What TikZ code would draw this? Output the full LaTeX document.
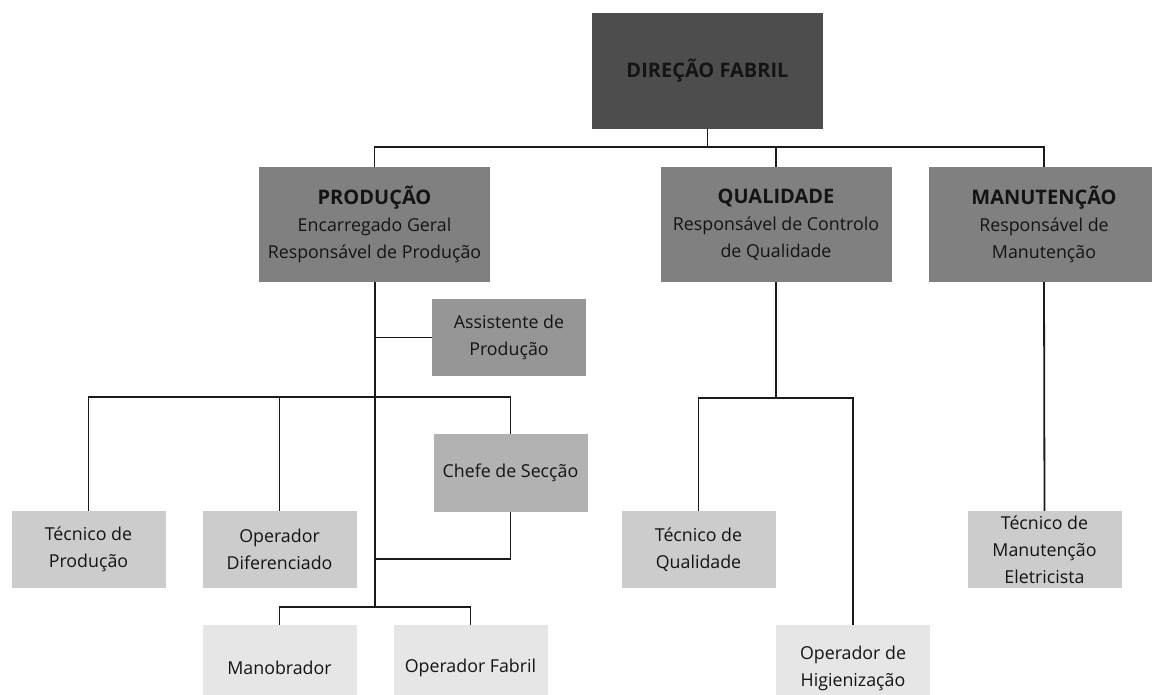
\documentclass[tikz,border=0pt]{standalone}
\usepackage{fontspec}
\setmainfont{Open Sans}
\definecolor{cdir}{HTML}{4D4D4D}
\definecolor{cdep}{HTML}{808080}
\definecolor{cass}{HTML}{969696}
\definecolor{cchefe}{HTML}{B2B2B2}
\definecolor{ctec}{HTML}{CCCCCC}
\definecolor{cop}{HTML}{E6E6E6}
\definecolor{cline}{HTML}{1A1A1A}
\definecolor{ctxt}{HTML}{141414}
\newcommand{\ttl}[1]{{\fontsize{20}{27}\selectfont\bfseries #1}}
\begin{document}
\begin{tikzpicture}[x=1pt,y=-1pt,
  box/.style={rectangle, inner sep=0pt, align=center, text=ctxt,
    font=\fontsize{17.8}{27}\selectfont},
  big/.style={box, minimum width=231pt, minimum height=115pt},
  small/.style={box, minimum width=154pt, minimum height=77pt},
  low/.style={box, minimum width=154pt, minimum height=86pt},
  conn/.style={draw=cline, line width=1.8pt},
  trunk/.style={draw=cline, line width=2.4pt}]
\useasboundingbox (0,0) rectangle (1152,695);
\clip (0,0) rectangle (1152,695);

\node[big, fill=cdir, minimum height=116pt] (dir) at (707.5,71) {\ttl{DIREÇÃO FABRIL}};
\node[big, fill=cdep] (prod) at (374.5,224.5) {\ttl{PRODUÇÃO}\\Encarregado Geral\\Responsável de Produção};
\node[big, fill=cdep] (qual) at (776,224.5) {\ttl{QUALIDADE}\\Responsável de Controlo\\de Qualidade};
\node[big, fill=cdep, minimum width=230pt] (man) at (1044,224.5) {\ttl{MANUTENÇÃO}\\Responsável de\\Manutenção};

\node[small, fill=cass] (assist) at (509,337.5) {Assistente de\\Produção};
\node[small, fill=cchefe, minimum height=78pt] (chefe) at (510.5,473) {Chefe de Secção};
\node[small, fill=ctec] (tecprod) at (88.5,549.5) {Técnico de\\Produção};
\node[small, fill=ctec] (opdif) at (279.5,549.5) {Operador\\Diferenciado};
\node[small, fill=ctec] (tecqual) at (698.5,549.5) {Técnico de\\Qualidade};
\node[small, fill=ctec] (tecman) at (1044.5,549.5) {Técnico de\\Manutenção\\Eletricista};
\node[low, fill=cop] (manob) at (279.5,668) {Manobrador};
\node[low, fill=cop] (opfab) at (470.5,668) {Operador Fabril};
\node[low, fill=cop] (ophig) at (853,668) {Operador de\\Higienização};

\coordinate (j0) at (0,147);
\coordinate (j1) at (0,397);
\coordinate (j2) at (0,559);
\coordinate (j3) at (0,607);
\coordinate (jq) at (0,398);
\coordinate (tk) at (375,282);

% top level
\draw[conn] (dir.south) -- (dir.south |- j0);
\draw[conn] (prod.north) -- (prod.north |- j0) -- (man.north |- j0) -- (man.north);
\draw[conn] (qual.north) -- (qual.north |- j0);

% production trunk
\draw[trunk] (tk) -- (tk |- j3);
\draw[conn] (assist.west) -- (assist.west -| tk);
\draw[conn] (tecprod.north) |- (chefe.north |- j1) -- (chefe.north);
\draw[conn] (opdif.north) -- (opdif.north |- j1);
\draw[conn] (chefe.south) |- (tk |- j2);
\draw[conn] (manob.north) |- (opfab.north |- j3) -- (opfab.north);

% quality
\draw[conn] (qual.south) -- (qual.south |- jq);
\draw[conn] (tecqual.north) |- (ophig.north |- jq) -- (ophig.north);

% maintenance
\draw[conn] (man.south) -- (tecman.north);
\end{tikzpicture}
\end{document}
